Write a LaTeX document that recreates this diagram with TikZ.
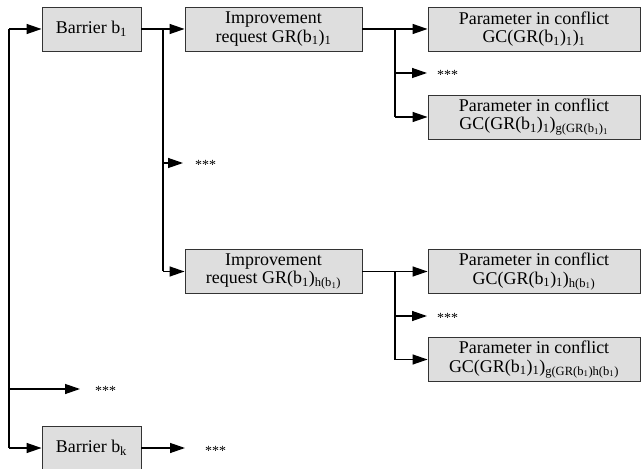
\documentclass[tikz,border=0pt]{standalone}
\usepackage{fontspec}
\setmainfont{Liberation Serif}
\usetikzlibrary{arrows.meta,positioning}
\tikzset{
  x=1bp, y=-1bp,
  box/.style={draw=black!80, line width=0.9bp, fill=black!13, inner sep=0pt,
    minimum height=44bp, align=center, font=\fontsize{18}{18.5}\selectfont},
  barrierbox/.style={box, minimum width=99bp},
  reqbox/.style={box, minimum width=177bp},
  parbox/.style={box, minimum width=212bp},
  dots/.style={anchor=west, inner sep=0pt, font=\fontsize{14}{14}\selectfont},
  link/.style={line width=1.3bp, -{Triangle[length=15bp,width=10bp]}},
  bar/.style={line width=1.3bp},
}
\newcommand{\sbs}[1]{\textsubscript{#1}}
\begin{document}
\begin{tikzpicture}
\useasboundingbox (0,0) rectangle (641,469);

% first level: barriers
\node[barrierbox] (b1) at (91.5,29) {Barrier b\sbs{1}};
\node[barrierbox] (bk) at (91.5,448) {Barrier b\sbs{k}};

% second level: improvement requests
\node[reqbox] (gr1) at (273.5,29) {Improvement\\request GR(b\sbs{1})\sbs{1}};
\node[reqbox] (gr2) at (273.5,271.5) {Improvement\\request GR(b\sbs{1})\sbs{h(b\sbs{1})}};

% third level: parameters in conflict
\node[parbox] (p11) at (534,29) {Parameter in conflict\\GC(GR(b\sbs{1})\sbs{1})\sbs{1}};
\node[parbox] (p1g) at (534,117) {Parameter in conflict\\GC(GR(b\sbs{1})\sbs{1})\sbs{g(GR(b\sbs{1})\sbs{1}}};
\node[parbox] (p21) at (534,271.5) {Parameter in conflict\\GC(GR(b\sbs{1})\sbs{1})\sbs{h(b\sbs{1})}};
\node[parbox] (p2g) at (534,359.5) {Parameter in conflict\\GC(GR(b\sbs{1})\sbs{1})\sbs{g(GR(b\sbs{1})h(b\sbs{1})}};

% elided branches
\node[dots] (d0) at (95,391) {***};
\node[dots] (dk) at (205,450.5) {***};
\node[dots] (d1) at (195,165) {***};
\node[dots] (d11) at (437,75) {***};
\node[dots] (d21) at (437,318) {***};

% branch points
\coordinate (t0) at (9,29);
\coordinate (t1) at (163,29);
\coordinate (t11) at (395,29);
\coordinate (t21) at (395,271.5);

% trunk on the left
\draw[bar] (t0) -- (9,448);
\draw[link] (t0) -- (b1);
\draw[link] (9,389) -- (80,389);
\draw[link] (9,448) -- (bk);
\draw[link] (bk) -- (185,448);

% branches of barrier b1
\draw[bar] (b1) -- (t1) -- (163,271.5);
\draw[link] (t1) -- (gr1);
\draw[link] (163,163) -- (183,163);
\draw[link] (163,271.5) -- (gr2);

% branches of the first request
\draw[bar] (gr1) -- (t11) -- (395,117);
\draw[link] (t11) -- (p11);
\draw[link] (395,73) -- (427,73);
\draw[link] (395,117) -- (p1g);

% branches of the last request
\draw[bar] (gr2) -- (t21) -- (395,359.5);
\draw[link] (t21) -- (p21);
\draw[link] (395,316) -- (427,316);
\draw[link] (395,359.5) -- (p2g);
\end{tikzpicture}
\end{document}
